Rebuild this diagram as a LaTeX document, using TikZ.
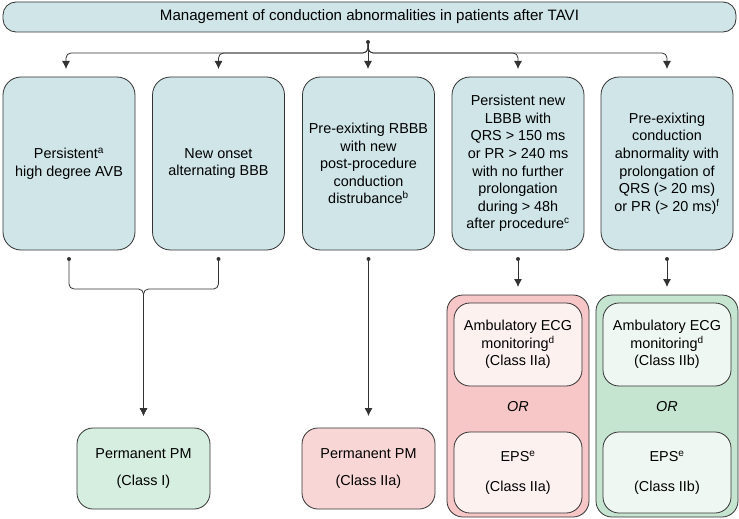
\documentclass[tikz,border=0pt]{standalone}
\usepackage{fontspec}
\setmainfont{Liberation Sans}
\usetikzlibrary{arrows.meta}
\definecolor{linec}{HTML}{333333}
\definecolor{bluef}{HTML}{CFE5E8}
\definecolor{greenf}{HTML}{D5EEDF}
\definecolor{pinkf}{HTML}{F9D6D6}
\definecolor{pinko}{HTML}{F6C7C6}
\definecolor{pinki}{HTML}{FDF1F0}
\definecolor{greeno}{HTML}{C5E5D1}
\definecolor{greeni}{HTML}{EFF7F2}
\newcommand{\bfs}{\fontsize{14.4}{17.6}\selectfont}
\newcommand{\sps}[1]{\textsuperscript{#1}}
\tikzset{
  every node/.style={inner sep=0pt, outer sep=0pt},
  cbox/.style={draw=linec, line width=0.8pt, rounded corners=18pt, fill=bluef,
    minimum width=132pt, minimum height=173pt, align=center, font=\bfs},
  resbox/.style={draw=linec, line width=0.8pt, rounded corners=16pt,
    minimum width=133pt, minimum height=81pt, align=center, font=\bfs},
  outbox/.style={draw=linec, line width=0.8pt, rounded corners=16pt,
    minimum width=142pt, minimum height=222pt},
  inbox/.style={draw=linec, line width=0.8pt, rounded corners=16pt,
    minimum width=128pt, align=center, font=\bfs},
  conn/.style={draw=linec, line width=0.8pt},
  arr/.style={conn, -{Latex[length=8pt,width=8pt]}},
  dotc/.style={fill=linec}
}
\begin{document}
\begin{tikzpicture}[x=1pt,y=-1pt]
\useasboundingbox (0,0) rectangle (739,519);
% top
\node[draw=linec, line width=0.8pt, rounded corners=13pt, fill=bluef,
  minimum width=733pt, minimum height=30pt, font=\fontsize{15.1}{17.6}\selectfont]
  (top) at (369.5,17) {Management of conduction abnormalities in patients after TAVI};
% condition boxes
\node[cbox] (b1) at (69,163.5) {Persistent\sps{a}\\high degree AVB};
\node[cbox] (b2) at (218.5,163.5) {New onset\\alternating BBB};
\node[cbox] (b3) at (368.5,163.5) {Pre-exixting RBBB\\with new\\post-procedure\\conduction\\distrubance\sps{b}};
\node[cbox] (b4) at (518,163.5) {Persistent new\\LBBB with\\QRS > 150 ms\\or PR > 240 ms\\with no further\\prolongation\\during > 48h\\after procedure\sps{c}};
\node[cbox] (b5) at (667,163.5) {Pre-exixting\\conduction\\abnormality with\\prolongation of\\QRS (> 20 ms)\\or PR (> 20 ms)\sps{f}};
% result boxes
\node[resbox, fill=greenf] (pm1) at (143.5,468.5) {Permanent PM\\[10pt](Class I)};
\node[resbox, fill=pinkf] (pm2) at (368.5,468.5) {Permanent PM\\[10pt](Class IIa)};
% outer groups
\node[outbox, fill=pinko] (g4) at (518,406) {};
\node[outbox, fill=greeno] (g5) at (667,406) {};
\node[inbox, fill=pinki, minimum height=83pt] (a4) at (518,344.5) {Ambulatory ECG\\monitoring\sps{d}\\(Class IIa)};
\node[inbox, fill=pinki, minimum height=81pt] (e4) at (518,472.5) {EPS\sps{e}\\[12pt](Class IIa)};
\node[font=\bfs\itshape] (or4) at (518,407) {OR};
\node[inbox, fill=greeni, minimum height=83pt] (a5) at (667,344.5) {Ambulatory ECG\\monitoring\sps{d}\\(Class IIb)};
\node[inbox, fill=greeni, minimum height=81pt] (e5) at (667,472.5) {EPS\sps{e}\\[12pt](Class IIb)};
\node[font=\bfs\itshape] (or5) at (667,407) {OR};
% junctions
\coordinate (d0) at (368,42);
\coordinate (j0) at (368,53);
\coordinate (d1) at (69,259);
\coordinate (d2) at (218.5,259);
\coordinate (d3) at (368.5,259);
\coordinate (d4) at (518,259);
\coordinate (d5) at (667,259);
\coordinate (m) at (143.5,289);
% top connectors
\draw[arr, rounded corners=5pt, shorten >=8pt] (d0) -- (j0) -| ([xshift=-3pt]b1.north);
\draw[arr, rounded corners=5pt, shorten >=8pt] (d0) -- (j0) -| (b2.north);
\draw[arr, shorten >=8pt] (d0) -- (d0 |- b3.north);
\draw[arr, rounded corners=5pt, shorten >=8pt] (d0) -- (j0) -| (b4.north);
\draw[arr, rounded corners=5pt, shorten >=8pt] (d0) -- (j0) -| (b5.north);
% lower connectors
\draw[arr, rounded corners=5pt, shorten >=12pt] (d1) |- (m) -- (pm1.north);
\draw[arr, rounded corners=5pt, shorten >=12pt] (d2) |- (m) -- (pm1.north);
\draw[arr, shorten >=12pt] (d3) -- (pm2.north);
\draw[arr, shorten >=8pt] (d4) -- (g4.north);
\draw[arr, shorten >=8pt] (d5) -- (g5.north);
% dots
\foreach \d in {d0,d1,d2,d3,d4,d5} \fill[dotc] (\d) circle (2pt);
\end{tikzpicture}
\end{document}
